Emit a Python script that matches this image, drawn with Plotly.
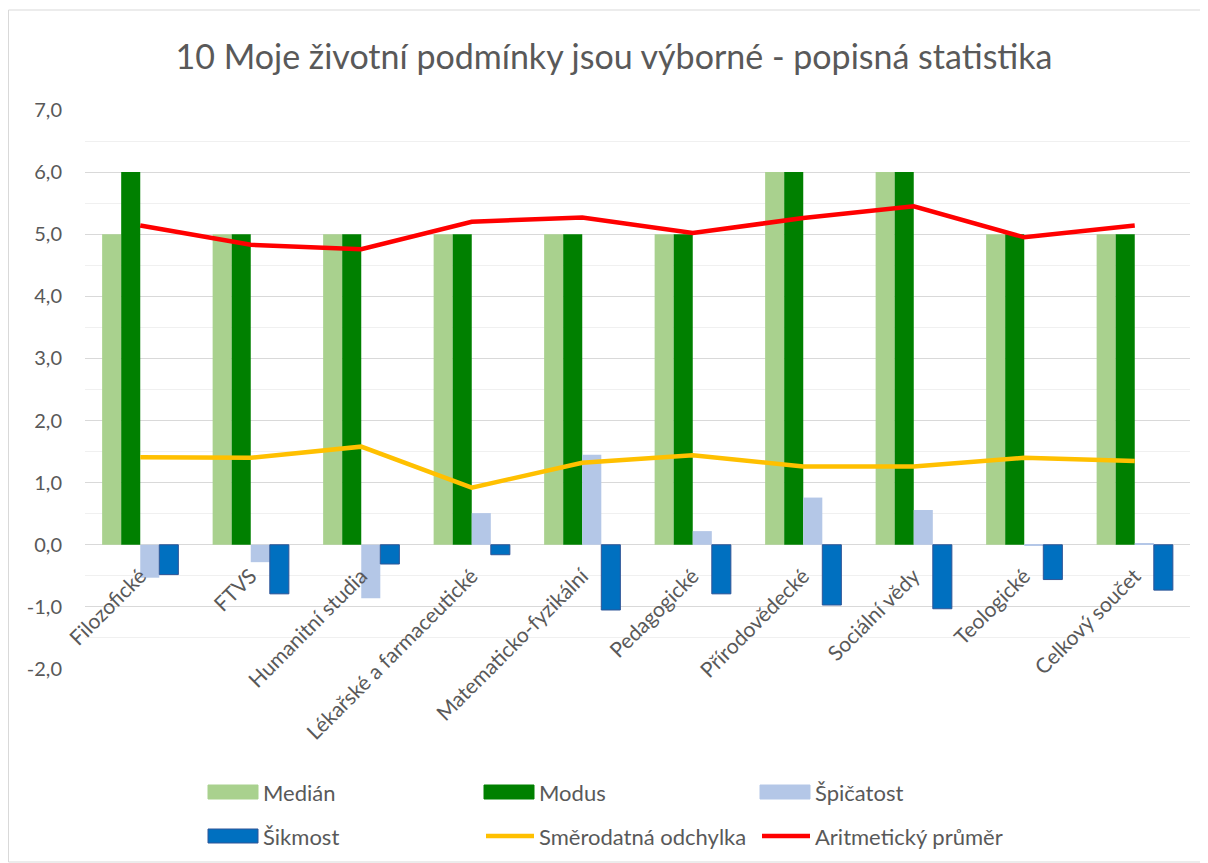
import plotly.graph_objects as go

categories = ["Filozofické", "FTVS", "Humanitní studia", "Lékařské a farmaceutické",
              "Matematicko-fyzikální", "Pedagogické", "Přírodovědecké", "Sociální vědy",
              "Teologické", "Celkový součet"]
median = [5, 5, 5, 5, 5, 5, 6, 6, 5, 5]
modus = [6, 5, 5, 5, 5, 5, 6, 6, 5, 5]
spicatost = [-0.53, -0.28, -0.86, 0.51, 1.45, 0.22, 0.76, 0.56, -0.02, 0.02]
sikmost = [-0.48, -0.79, -0.31, -0.16, -1.05, -0.79, -0.97, -1.03, -0.56, -0.73]
smerodatna = [1.41, 1.40, 1.58, 0.92, 1.32, 1.44, 1.26, 1.26, 1.40, 1.35]
prumer = [5.14, 4.83, 4.76, 5.20, 5.27, 5.02, 5.26, 5.45, 4.95, 5.14]
yticks = [-2, -1, 0, 1, 2, 3, 4, 5, 6, 7]
ytick_labels = [f"{v:.1f}".replace(".", ",") for v in yticks]

names = ["Medián", "Modus", "Špičatost", "Šikmost", "Směrodatná odchylka", "Aritmetický průměr"]
colors = ["#a9d18e", "#008000", "#b4c7e7", "#0070c0", "#ffc000", "#ff0000"]
edge = ["#a9d18e", "#008000", "#b4c7e7", "#2f5597"]

FONT = "Lato"
GREY = "#595959"

# page body adds an 8px offset; figure sized to fit the window
W, H = 1200, 855
L, R, T, B = 77, 18, 102, 194
pw, ph = W - L - R, H - T - B


def px(x):
    return (x - L) / pw


def py(y):
    return (H - B - y) / ph


fig = go.Figure()
for i, vals in enumerate([median, modus, spicatost, sikmost]):
    fig.add_trace(go.Bar(x=categories, y=vals, name=names[i],
                         marker=dict(color=colors[i],
                                     line=dict(color=edge[i], width=1 if i == 3 else 0)),
                         showlegend=False))
for i, vals in [(4, smerodatna), (5, prumer)]:
    fig.add_trace(go.Scatter(x=categories, y=vals, name=names[i], mode="lines",
                             line=dict(color=colors[i], width=4.5),
                             showlegend=False))

shapes = []
annotations = []
# chart border
shapes.append(dict(type="rect", xref="paper", yref="paper",
                   x0=px(0.5), x1=px(1199), y0=py(854), y1=py(2),
                   line=dict(color="#d9d9d9", width=1), fillcolor="rgba(0,0,0,0)", layer="below"))

# legend (drawn manually to mimic the wide swatches)
leg_x = [200, 476, 752]
leg_y = [784, 828]
for k, name in enumerate(names):
    row, col = divmod(k, 3)
    x0 = leg_x[col]
    yc = leg_y[row]
    if k < 4:
        shapes.append(dict(type="rect", xref="paper", yref="paper",
                           x0=px(x0), x1=px(x0 + 50), y0=py(yc + 7), y1=py(yc - 7),
                           fillcolor=colors[k],
                           line=dict(color=edge[k] if k == 3 else colors[k], width=1)))
    else:
        shapes.append(dict(type="line", xref="paper", yref="paper",
                           x0=px(x0 + 2), x1=px(x0 + 50), y0=py(yc), y1=py(yc),
                           line=dict(color=colors[k], width=4.5)))
    annotations.append(dict(xref="paper", yref="paper", x=px(x0 + 53), y=py(yc),
                            text=name, showarrow=False, xanchor="left", yanchor="middle",
                            font=dict(family=FONT, size=22, color=GREY)))

fig.update_layout(
    width=W, height=H,
    margin=dict(l=L, r=R, t=T, b=B, autoexpand=False),
    paper_bgcolor="white", plot_bgcolor="white",
    barmode="group", bargap=0.31, bargroupgap=0,
    title=dict(text="10 Moje životní podmínky jsou výborné - popisná statistika",
               x=606 / W, xref="container", xanchor="center",
               y=1 - 49 / H, yref="container", yanchor="middle",
               font=dict(family=FONT, size=34, color=GREY)),
    xaxis=dict(type="category", range=[-0.5, 9.5], tickangle=-45,
               anchor="free", position=(0 - (-2)) / 9,
               tickfont=dict(family=FONT, size=21, color=GREY),
               ticklabelstandoff=14,
               showgrid=False, showline=False, ticks="", zeroline=False),
    yaxis=dict(range=[-2, 7], tickvals=yticks, ticktext=ytick_labels,
               tickfont=dict(family=FONT, size=20, color=GREY),
               showgrid=True, gridcolor="#d9d9d9", gridwidth=1,
               minor=dict(dtick=0.5, showgrid=True, gridcolor="#f0f0f0", gridwidth=1),
               zeroline=True, zerolinecolor="#d9d9d9", zerolinewidth=1,
               showline=False, ticks="", ticklabelstandoff=22),
    shapes=shapes, annotations=annotations,
    showlegend=False,
)

fig.write_html("out.html")
